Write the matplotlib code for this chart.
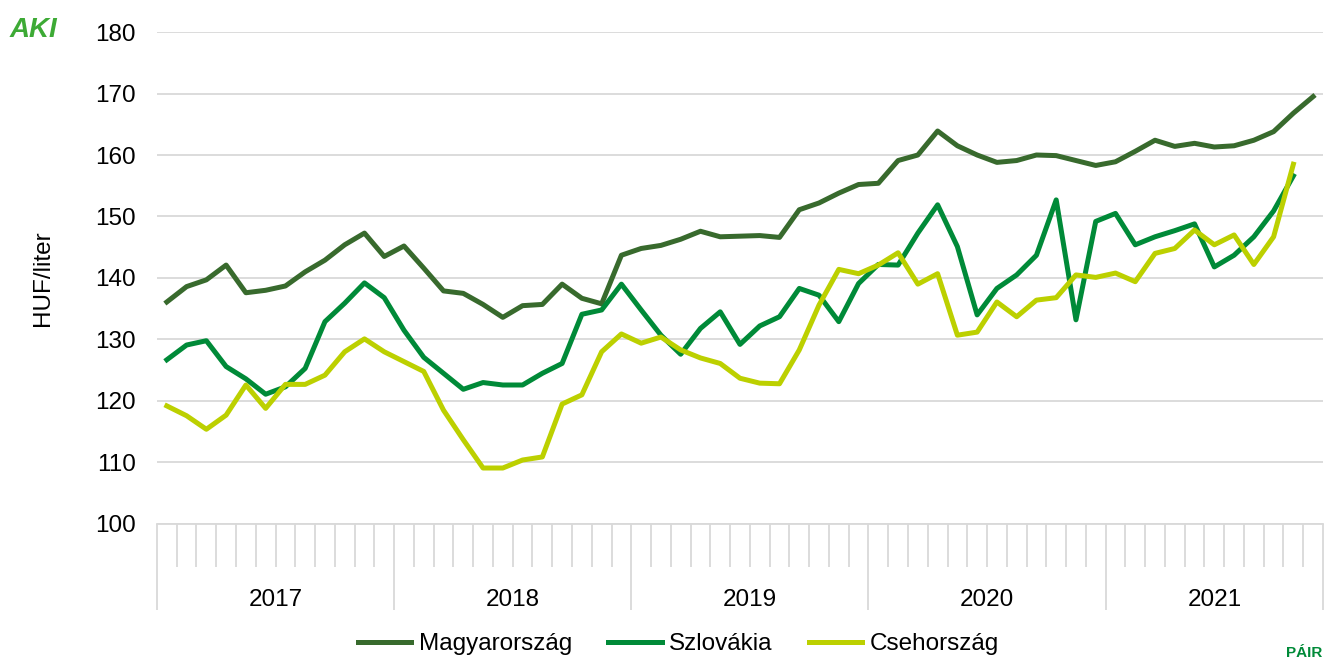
import matplotlib.pyplot as plt
import numpy as np
from matplotlib.ticker import FixedLocator, NullFormatter

plt.rcParams['font.family'] = ['Liberation Sans', 'DejaVu Sans']

# monthly prices, Jan 2017 - Nov 2021 (HUF/liter)
years = ['2017', '2018', '2019', '2020', '2021']
months_per_year = [12, 12, 12, 12, 11]

magyar = [136.1, 138.6, 139.7, 142.1, 137.6, 138.0, 138.7, 141.0, 142.9, 145.4, 147.3, 143.5,
          145.2, 141.6, 137.9, 137.5, 135.7, 133.6, 135.5, 135.7, 139.0, 136.7, 135.8, 143.7,
          144.8, 145.3, 146.3, 147.6, 146.7, 146.8, 146.9, 146.6, 151.1, 152.2, 153.8, 155.2,
          155.4, 159.1, 160.0, 163.9, 161.5, 160.0, 158.8, 159.1, 160.0, 159.9, 159.1, 158.3,
          158.9, 160.6, 162.4, 161.4, 161.9, 161.3, 161.5, 162.4, 163.8, 166.8, 169.5]
szlovak = [126.7, 129.1, 129.8, 125.6, 123.6, 121.1, 122.3, 125.3, 132.9, 135.9, 139.2, 136.8,
           131.5, 127.1, 124.5, 121.9, 123.0, 122.6, 122.6, 124.5, 126.1, 134.1, 134.8, 139.0,
           134.8, 130.7, 127.6, 131.8, 134.5, 129.2, 132.2, 133.7, 138.3, 137.2, 132.9, 139.1,
           142.2, 142.1, 147.3, 151.9, 145.1, 134.0, 138.3, 140.5, 143.7, 152.7, 133.2, 149.2,
           150.5, 145.4, 146.7, 147.7, 148.8, 141.8, 143.7, 146.7, 150.9, 156.6]
cseh = [119.2, 117.6, 115.4, 117.7, 122.6, 118.8, 122.7, 122.7, 124.2, 128.0, 130.1, 128.0,
        126.4, 124.8, 118.5, 113.7, 109.1, 109.1, 110.4, 110.9, 119.5, 121.0, 128.0, 130.9,
        129.4, 130.4, 128.3, 127.0, 126.1, 123.7, 122.9, 122.8, 128.3, 135.6, 141.4, 140.7,
        142.1, 144.1, 139.0, 140.7, 130.7, 131.2, 136.1, 133.7, 136.4, 136.8, 140.5, 140.1,
        140.8, 139.4, 144.0, 144.8, 147.8, 145.4, 147.0, 142.2, 146.7, 158.5]

fs = 17.5

fig = plt.figure(figsize=(13.38, 6.6), dpi=100)
ax = fig.add_axes([0.1173, 0.2061, 0.8715, 0.7454])

ax.plot(np.arange(len(magyar)), magyar, color='#386A2D', lw=3.6, label='Magyarország')
ax.plot(np.arange(len(szlovak)), szlovak, color='#008A38', lw=3.6, label='Szlovákia')
ax.plot(np.arange(len(cseh)), cseh, color='#BCD000', lw=3.6, label='Csehország')

n = sum(months_per_year)
ax.set_xlim(-0.5, n - 0.5)
ax.set_ylim(100, 180)
ax.set_yticks(range(100, 181, 10))
ax.grid(axis='y', color='#D9D9D9', lw=1.3)
ax.set_axisbelow(True)
for s in ['top', 'right', 'left']:
    ax.spines[s].set_visible(False)
ax.spines['bottom'].set_color('#D9D9D9')
ax.spines['bottom'].set_linewidth(1.3)
ax.tick_params(axis='y', length=0, labelsize=fs, pad=15)

# category axis: month separators and year separators
bounds = np.concatenate([[0], np.cumsum(months_per_year)]) - 0.5
ax.xaxis.set_major_locator(FixedLocator(bounds))
ax.xaxis.set_minor_locator(FixedLocator(np.arange(n + 1) - 0.5))
ax.xaxis.set_major_formatter(NullFormatter())
ax.tick_params(axis='x', which='major', length=62, width=1.3, color='#D9D9D9')
ax.tick_params(axis='x', which='minor', length=31, width=1.3, color='#D9D9D9')
for i, y in enumerate(years):
    c = (bounds[i] + bounds[i + 1]) / 2
    ax.text(c, -0.155, y, transform=ax.get_xaxis_transform(), ha='center', va='center', fontsize=fs)

ax.set_ylabel('HUF/liter', fontsize=fs, labelpad=30)

fig.legend(loc='center', bbox_to_anchor=(0.507, 0.024), ncol=3, frameon=False,
           fontsize=fs, handlelength=2.2, columnspacing=1.5, handletextpad=0.3)

fig.text(0.025, 0.955, 'AKI', color='#3DAA35', fontsize=20, fontweight='bold',
         fontstyle='italic', ha='center', va='center')
fig.text(0.975, 0.0, 'PÁIR', color='#008A38', fontsize=11, fontweight='bold', ha='center', va='bottom')

fig.savefig('out.png', dpi=100)
